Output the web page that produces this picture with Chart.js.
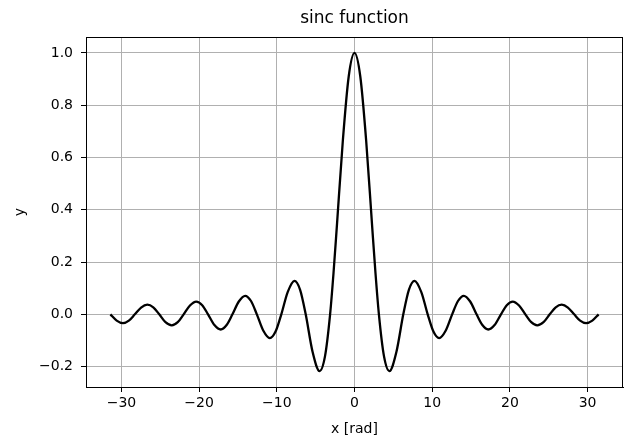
<!DOCTYPE html>
<html>
<head>
<meta charset="utf-8">
<title>sinc function</title>
<script src="https://cdn.jsdelivr.net/npm/chart.js@4/dist/chart.umd.min.js"></script>
<style>
  html, body { margin: 0; padding: 0; background: #fff; }
  #wrap { width: 625px; height: 441px; }
</style>
</head>
<body>
<div id="wrap"><canvas id="chart" width="625" height="441"></canvas></div>
<script>
// values: zeros, peaks and a point between each
const xValues = [-31.42, -30.61, -29.81, -29.04, -28.27, -27.47, -26.67, -25.9, -25.13,
  -24.33, -23.52, -22.75, -21.99, -21.18, -20.37, -19.6, -18.85, -18.03, -17.22, -16.46,
  -15.71, -14.89, -14.07, -13.32, -12.57, -11.73, -10.9, -10.16, -9.42, -8.6, -7.73, -7.0,
  -6.28, -5.4, -4.49, -3.8, -3.14, -2.7, -2.25, -1.5, -0.75, 0, 0.75, 1.5, 2.25, 2.7, 3.14,
  3.8, 4.49, 5.4, 6.28, 7.0, 7.73, 8.6, 9.42, 10.16, 10.9, 11.73, 12.57, 13.32, 14.07,
  14.89, 15.71, 16.46, 17.22, 18.03, 18.85, 19.6, 20.37, 21.18, 21.99, 22.75, 23.52,
  24.33, 25.13, 25.9, 26.67, 27.47, 28.27, 29.04, 29.81, 30.61, 31.42];
const yValues = [0, -0.024, -0.034, -0.024, 0, 0.026, 0.037, 0.027, 0,
  -0.030, -0.042, -0.030, 0, 0.034, 0.049, 0.035, 0, -0.041, -0.058, -0.041,
  0, 0.049, 0.071, 0.051, 0, -0.063, -0.091, -0.066, 0, 0.085, 0.128, 0.094,
  0, -0.143, -0.217, -0.161, 0, 0.158, 0.346, 0.665, 0.909, 1.0, 0.909, 0.665, 0.346, 0.158, 0,
  -0.161, -0.217, -0.143, 0, 0.094, 0.128, 0.085, 0, -0.066, -0.091, -0.063, 0, 0.051, 0.071,
  0.049, 0, -0.041, -0.058, -0.041, 0, 0.035, 0.049, 0.034, 0, -0.030, -0.042,
  -0.030, 0, 0.027, 0.037, 0.026, 0, -0.024, -0.034, -0.024, 0];

const xTicks = [-30, -20, -10, 0, 10, 20, 30];
const yTicks = [-0.2, 0.0, 0.2, 0.4, 0.6, 0.8, 1.0];

const titleText = "sinc function";
const xLabel = "x [rad]";
const yLabel = "y";

const FONT = "'DejaVu Sans', sans-serif";
const minus = (s) => s.replace("-", "\u2212");

// title over the plot area and a box round it, like matplotlib
const framePlugin = {
  id: "frame",
  afterDraw(chart) {
    const { ctx, chartArea: a } = chart;
    ctx.save();
    ctx.strokeStyle = "#000";
    ctx.lineWidth = 1;
    ctx.strokeRect(Math.round(a.left) + 0.5, Math.round(a.top) + 0.5,
      Math.round(a.right - a.left) - 1, Math.round(a.bottom - a.top));
    ctx.fillStyle = "#000";
    ctx.font = "17px " + FONT;
    ctx.textAlign = "center";
    ctx.textBaseline = "middle";
    ctx.fillText(titleText, (a.left + a.right) / 2, 19);
    ctx.restore();
  },
};

new Chart(document.getElementById("chart"), {
  type: "line",
  data: {
    datasets: [{
      data: xValues.map((x, i) => ({ x: x, y: yValues[i] })),
      borderColor: "#000",
      borderWidth: 2.3,
      pointRadius: 0,
      cubicInterpolationMode: "monotone",
      fill: false,
    }],
  },
  options: {
    responsive: false,
    animation: false,
    devicePixelRatio: 1,
    layout: { padding: { top: 37, right: 2, left: 0, bottom: 0 } },
    plugins: {
      legend: { display: false },
      tooltip: { enabled: false },
    },
    scales: {
      x: {
        type: "linear",
        min: -34.56,
        max: 34.56,
        afterBuildTicks: (s) => { s.ticks = xTicks.map((v) => ({ value: v })); },
        afterFit: (s) => { s.height = 54; },
        grid: { color: "#b0b0b0", lineWidth: 1, tickLength: 5, tickColor: "#000" },
        border: { color: "#000", width: 1 },
        ticks: {
          color: "#000",
          font: { family: FONT, size: 14 },
          padding: 3,
          maxRotation: 0,
          callback: (v) => minus(String(v)),
        },
        title: {
          display: true,
          text: xLabel,
          color: "#000",
          font: { family: FONT, size: 14 },
          padding: { top: 0, bottom: 3 },
        },
      },
      y: {
        type: "linear",
        min: -0.278,
        max: 1.061,
        afterBuildTicks: (s) => { s.ticks = yTicks.map((v) => ({ value: v })); },
        afterFit: (s) => { s.width = 86; },
        grid: { color: "#b0b0b0", lineWidth: 1, tickLength: 5, tickColor: "#000" },
        border: { color: "#000", width: 1 },
        ticks: {
          color: "#000",
          font: { family: FONT, size: 14 },
          padding: 8,
          callback: (v) => minus(v.toFixed(1)),
        },
        title: {
          display: true,
          text: yLabel,
          color: "#000",
          font: { family: FONT, size: 14 },
          padding: { top: 12, bottom: 0 },
        },
      },
    },
  },
  plugins: [framePlugin],
});
</script>
</body>
</html>
